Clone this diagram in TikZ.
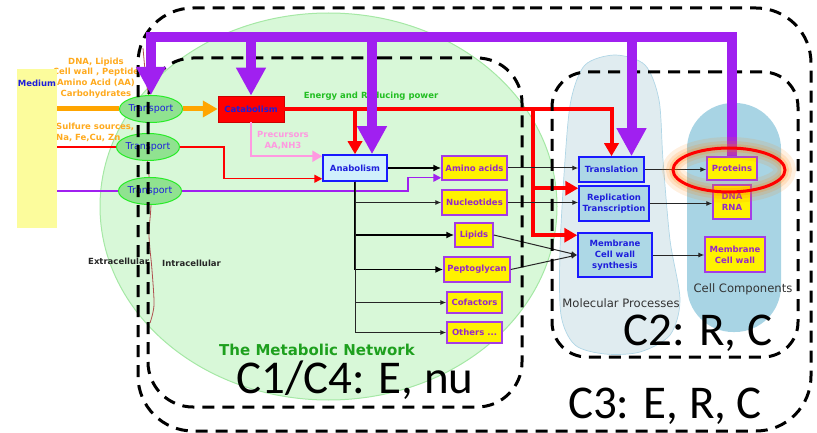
\documentclass[tikz,border=0pt]{standalone}
\usepackage{fontspec}
\setmainfont{DejaVu Sans}
\newfontfamily\calib{Carlito}
\usetikzlibrary{shapes.geometric,arrows.meta}

\definecolor{cellgreen}{RGB}{216,248,216}
\definecolor{cellgreenline}{RGB}{165,232,165}
\definecolor{mediumyellow}{RGB}{252,252,156}
\definecolor{trfill}{RGB}{144,226,144}
\definecolor{trline}{RGB}{40,236,40}
\definecolor{textblue}{RGB}{30,30,220}
\definecolor{boxblue}{RGB}{25,25,255}
\definecolor{anafill}{RGB}{208,240,252}
\definecolor{procfill}{RGB}{173,216,230}
\definecolor{boxpurple}{RGB}{165,60,230}
\definecolor{textpurple}{RGB}{150,40,200}
\definecolor{molfill}{RGB}{224,236,240}
\definecolor{molline}{RGB}{176,214,230}
\definecolor{compfill}{RGB}{168,212,228}
\definecolor{arrowpurple}{RGB}{160,32,240}
\definecolor{arroworange}{RGB}{255,165,0}
\definecolor{textorange}{RGB}{255,170,30}
\definecolor{arrowpink}{RGB}{255,153,225}
\definecolor{netgreen}{RGB}{30,160,30}
\definecolor{energygreen}{RGB}{34,190,34}
\definecolor{membrown}{RGB}{176,80,80}
\definecolor{labelgrey}{RGB}{50,50,50}

\tikzstyle{small} = [font=\bfseries\fontsize{8.5}{10.7}\selectfont, inner sep=0pt]
\tikzstyle{transport} = [ellipse, draw=trline, line width=1pt, fill=trfill, minimum width=48pt, minimum height=27pt, inner sep=0pt, text=textblue, font=\fontsize{9.5}{11}\selectfont]
\tikzstyle{medium} = [rectangle, fill=mediumyellow, minimum width=40pt, minimum height=159pt, inner sep=0pt]
\tikzstyle{catabox} = [rectangle, draw=red!80!black, fill=red, line width=0.5pt, inner sep=0pt, text=textblue, small]
\tikzstyle{anabox} = [rectangle, draw=boxblue, fill=anafill, line width=1.5pt, inner sep=0pt, text=textblue, small]
\tikzstyle{yellowbox} = [rectangle, draw=boxpurple, line width=1.5pt, fill=yellow, inner sep=0pt, text=textpurple, small, align=center]
\tikzstyle{procbox} = [rectangle, draw=boxblue, line width=1.5pt, fill=procfill, inner sep=0pt, text=textblue, small, align=center]
\tikzstyle{region} = [draw=black, line width=3pt, dash pattern=on 12pt off 8pt]
\tikzstyle{biglabel} = [font=\calib\fontsize{47}{50}\selectfont, anchor=base, inner sep=0pt]
\tikzstyle{blobtext} = [font=\fontsize{11.6}{13}\selectfont, text=labelgrey, inner sep=0pt]
\tikzstyle{orangeflow} = [draw=arroworange, line width=5pt]
\tikzstyle{purplebar} = [draw=arrowpurple, line width=10pt]
\tikzstyle{purplehead} = [-{Triangle[width=28pt,length=28pt]}]
\tikzstyle{redbar} = [draw=red, line width=4pt]
\tikzstyle{redhead} = [-{Triangle[width=14pt,length=13pt]}]
\tikzstyle{thinflow} = [draw=black!85, line width=1pt, -{Latex[length=6pt,width=5pt]}]
\tikzstyle{thickflow} = [draw=black, line width=1.8pt, -{Latex[length=8pt,width=7pt]}]

\begin{document}
\begin{tikzpicture}[x=1pt, y=-1pt]
\useasboundingbox (0,0) rectangle (817,433);

%background
\draw[fill=cellgreen, draw=cellgreenline, line width=1pt] (328.5,206.5) ellipse [x radius=228.5pt, y radius=193.5pt];
\draw[fill=molfill, draw=molline, line width=0.7pt] plot[smooth cycle] coordinates {(615,55) (645,65) (659,100) (663,160) (670,240) (680,300) (670,335) (640,352) (605,354) (575,345) (561,315) (560,250) (565,160) (571,100) (585,65)};
\fill[compfill, rounded corners=46pt] (687,103) rectangle (781,332);
\node[blobtext] (molproc) at (621,303) {Molecular Processes};
\node[blobtext] (cellcomp) at (743,289) {Cell Components};

%texts
\node[small, text=textorange, align=center] (intake) at (96,78) {DNA, Lipids\\Cell wall , Peptide\\Amino Acid (AA)\\Carbohydrates};
\node[small, text=textorange, align=left, anchor=west] (sulfure) at (56,132.5) {Sulfure sources,\\Na, Fe,Cu, Zn};
\node[small, text=energygreen] (energy) at (371,96) {Energy and Reducing power};
\node[small, text=arrowpink, align=center] (precursors) at (283,140.5) {Precursors\\AA,NH3};
\node[small, text=black!85, anchor=west] (extra) at (88,261) {Extracellular};
\node[small, text=black!85] (intra) at (191.5,263) {Intracellular};
\node[text=netgreen, font=\bfseries\fontsize{15}{17}\selectfont, inner sep=0pt] (network) at (317,350) {The Metabolic Network};
\draw[membrown, line width=0.8pt] plot[smooth] coordinates {(143,48) (146,80) (150,108) (147,150) (151,200) (149,235) (152,270) (154,305) (150,323)};

%medium and transport
\node[medium] (medium) at (37,148.5) {};
\node[small, text=textblue] (mediumtext) at (37,83) {Medium};
\node[transport] (tr1) at (151,109) {Transport};
\node[transport] (tr2) at (148,147) {Transport};
\node[transport] (tr3) at (150,191) {Transport};

%metabolism
\node[catabox, minimum width=66pt, minimum height=26pt] (catab) at (251,109) {Catabolism};
\node[anabox, minimum width=64pt, minimum height=26pt] (anab) at (355,168) {Anabolism};
\node[yellowbox, minimum width=65pt, minimum height=24pt] (amino) at (474.5,168) {Amino acids};
\node[yellowbox, minimum width=65pt, minimum height=25pt] (nucl) at (474.5,202.5) {Nucleotides};
\node[yellowbox, minimum width=38pt, minimum height=24pt] (lipids) at (474,235) {Lipids};
\node[yellowbox, minimum width=66pt, minimum height=25pt] (pepto) at (477,269.5) {Peptoglycan};
\node[yellowbox, minimum width=55pt, minimum height=21pt] (cofac) at (474.5,302.5) {Cofactors};
\node[yellowbox, minimum width=55pt, minimum height=21pt] (others) at (474.5,332.5) {Others ...};

%molecular processes
\node[procbox, minimum width=65pt, minimum height=25pt] (transl) at (611.5,169.5) {Translation};
\node[procbox, minimum width=70pt, minimum height=35pt] (repl) at (614,203.5) {Replication\\Transcription};
\node[procbox, minimum width=74pt, minimum height=44pt] (membr) at (615,255) {Membrane\\Cell wall\\synthesis};

%cell components
\node[yellowbox, minimum width=50pt, minimum height=23pt] (prot) at (732,168.5) {Proteins};
\node[yellowbox, minimum width=38pt, minimum height=34pt] (dnarna) at (732,202) {DNA\\RNA};
\node[yellowbox, minimum width=60pt, minimum height=35pt] (cellwall) at (735,254.5) {Membrane\\Cell wall};

%uptake
\draw[orangeflow] (medium.east |- tr1) -- (tr1.west);
\draw[orangeflow, -{Triangle[width=16pt,length=15pt]}] (tr1.east) -- (catab.west);
\coordinate (rbend) at (224,148);
\coordinate (anabred) at ([yshift=3pt]anab.south west);
\draw[red, line width=1.5pt] (medium.east |- tr2) -- (tr2.west);
\draw[red, line width=1.5pt, -{Triangle[width=8pt,length=8pt]}] (tr2.east) -- (tr2.east -| rbend) |- (anabred);
\coordinate (pbend) at (408,191);
\coordinate (aminoin) at ([yshift=3pt]amino.south west);
\draw[arrowpurple, line width=1.5pt] (medium.east |- tr3) -- (tr3.west);
\draw[arrowpurple, line width=1.5pt, -{Triangle[width=8pt,length=8pt]}] (tr3.east) -- (tr3.east -| pbend) |- (aminoin);

%energy and precursors
\coordinate (anabpink) at ([yshift=-2pt]anab.north west);
\draw[arrowpink, line width=2.5pt, -{Triangle[width=11pt,length=10pt]}] (catab.south) |- (anabpink);
\draw[redbar, redhead] (catab.east) -| (transl.north);
\draw[redbar, redhead] (catab.east -| anab.north) -- (anab.north);
\coordinate (rsplit) at (533,109);
\coordinate (replin) at ([yshift=-3pt]repl.north west);
\coordinate (membrin) at ([yshift=-3pt]membr.north west);
\draw[redbar, redhead] (rsplit) |- (replin);
\draw[redbar, redhead] (rsplit) |- (membrin);

%anabolism products
\draw[thickflow] (anab.east) -- (amino.west);
\draw[thickflow] (anab.south) |- (lipids.west);
\draw[thickflow] (anab.south) |- (pepto.west);
\draw[thinflow] (anab.south) |- (nucl.west);
\draw[thinflow] (anab.south) |- (cofac.west);
\draw[thinflow] (anab.south) |- (others.west);
\draw[thinflow] (amino.east) -- (amino.east -| transl.west);
\draw[thinflow] (nucl.east) -- (nucl.east -| repl.west);
\draw[thinflow] (lipids.east) -- (membr.west);
\draw[thinflow] (pepto.east) -- (membr.west);
\draw[thinflow] (transl.east) -- (transl.east -| prot.west);
\draw[thinflow] (repl.east) -- (repl.east -| dnarna.west);
\draw[thinflow] (membr.east) -- (membr.east -| cellwall.west);

%regions
\draw[region, rounded corners=45pt] (335,58) -- (522,58) -- (522,407) -- (148,407) -- (148,58) -- cycle;
\draw[region, rounded corners=35pt] (675,72) -- (798,72) -- (798,357) -- (552,357) -- (552,72) -- cycle;
\draw[region, rounded corners=55pt] (475,8) -- (811,8) -- (811,431) -- (138,431) -- (138,8) -- cycle;

%enzymes
\coordinate (pbar) at (0,37);
\coordinate (anabin) at ([xshift=17pt]anab.north);
\coordinate (translin) at ([xshift=20pt]transl.north);
\draw[purplebar, purplehead, line join=miter] (prot.north) -- (prot.north |- pbar) -- (tr1.north |- pbar) -- (tr1.north);
\draw[purplebar, purplehead] (catab.north |- pbar) -- (catab.north);
\draw[purplebar, purplehead] (anabin |- pbar) -- (anabin);
\draw[purplebar, purplehead] (translin |- pbar) -- (translin);

%proteins highlight
\coordinate (glow) at (729,170);
\draw[orange, opacity=0.12, line width=22pt] (glow) ellipse [x radius=56pt, y radius=22pt];
\draw[orange, opacity=0.15, line width=14pt] (glow) ellipse [x radius=56pt, y radius=22pt];
\draw[orange, opacity=0.2, line width=8pt] (glow) ellipse [x radius=56pt, y radius=22pt];
\draw[red, line width=3pt] (glow) ellipse [x radius=56pt, y radius=22pt];

%labels
\node[biglabel] (cone) at (355,393) {C1/C4: E, nu};
\node[biglabel] (ctwo) at (698,345) {C2: R, C};
\node[biglabel] (cthree) at (665,418) {C3: E, R, C};
\end{tikzpicture}
\end{document}
